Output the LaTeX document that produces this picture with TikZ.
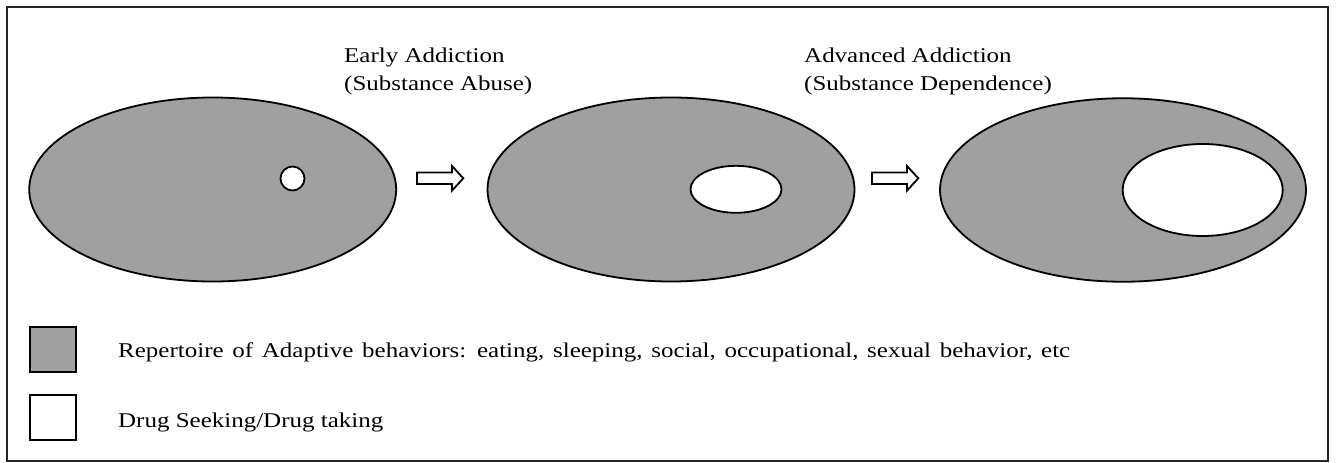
\documentclass[tikz,border=0pt]{standalone}
\usepackage{fontspec}
\setmainfont{Liberation Serif}[FakeStretch=1.19]
\usetikzlibrary{shapes.geometric}
\definecolor{adaptgrey}{HTML}{A0A0A0}
\tikzset{
  lbl/.style={inner sep=0pt, font=\fontsize{21}{28}\selectfont, align=left},
  region/.style={ellipse, draw=black, line width=1.8pt, inner sep=0pt},
  repertoire/.style={region, fill=adaptgrey},
  drug/.style={region, fill=white},
  keybox/.style={draw=black, line width=1.8pt, minimum width=46pt, minimum height=45pt, inner sep=0pt},
  blockarrow/.style={draw=black, fill=white, line width=1.8pt, line join=miter}
}
\begin{document}
\begin{tikzpicture}[x=1pt, y=-1pt]
  \useasboundingbox (0,0) rectangle (1336,463);
  % outer frame
  \draw[line width=2pt, draw=black!85] (7,7) rectangle (1328,461);

  % stage headings
  \node[lbl, anchor=north west] (early) at (344,47.5) {Early Addiction\\(Substance Abuse)};
  \node[lbl, anchor=north west] (advanced) at (804,47.5) {Advanced Addiction\\(Substance Dependence)};

  % stage 1: occasional use
  \node[repertoire, minimum width=367pt, minimum height=184pt] (rep1) at (212.7,189.5) {};
  \node[drug, circle, minimum size=24pt] (use1) at (292.5,178.5) {};

  % stage 2: early addiction
  \node[repertoire, minimum width=367pt, minimum height=184pt] (rep2) at (671,189.5) {};
  \node[drug, minimum width=91pt, minimum height=47pt] (use2) at (736,189.3) {};

  % stage 3: advanced addiction
  \node[repertoire, minimum width=366pt, minimum height=183.5pt] (rep3) at (1123,190) {};
  \node[drug, minimum width=160pt, minimum height=92pt] (use3) at (1202.7,190) {};

  % block arrows between stages
  \draw[blockarrow] (417,172.5) -- (452,172.5) -- (452,166) -- (463.3,178.3)
        -- (452,190.6) -- (452,184) -- (417,184) -- cycle;
  \draw[blockarrow] (872,172.5) -- (907,172.5) -- (907,166) -- (918.3,178.3)
        -- (907,190.6) -- (907,184) -- (872,184) -- cycle;

  % legend
  \node[keybox, fill=adaptgrey] (keyrep) at (53,349.5) {};
  \node[keybox, fill=white] (keydrug) at (53,417.5) {};
  \node[lbl, anchor=base west] (keyreptxt) at (118,357) {\spaceskip=8.7pt\relax Repertoire of Adaptive behaviors: eating, sleeping, social, occupational, sexual behavior, etc};
  \node[lbl, anchor=base west] (keydrugtxt) at (118,427) {Drug Seeking/Drug taking};
\end{tikzpicture}
\end{document}
